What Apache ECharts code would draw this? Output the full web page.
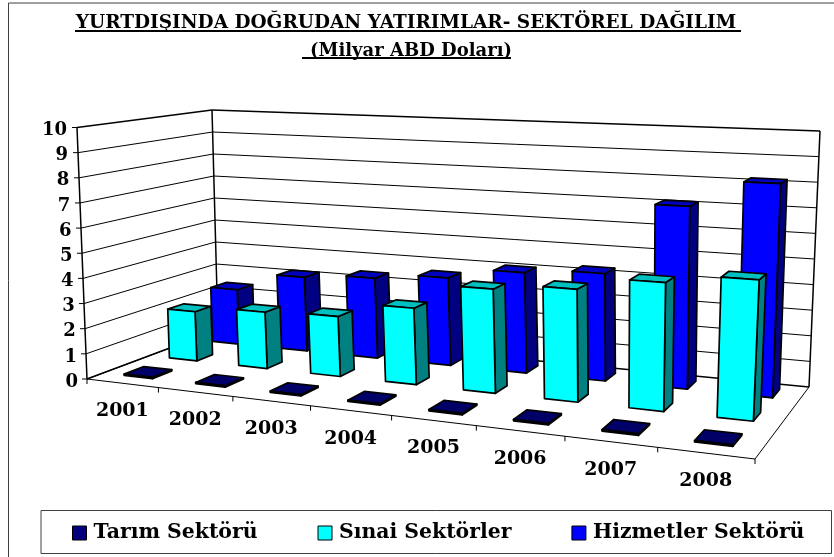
<!DOCTYPE html>
<html><head><meta charset="utf-8">
<style>html,body{margin:0;padding:0;background:#fff}#c{width:834px;height:557px}</style>
<script src="https://cdn.jsdelivr.net/npm/echarts@6/dist/echarts.min.js"></script>
</head><body><div id="c"></div>
<script>
const categories = ['2001','2002','2003','2004','2005','2006','2007','2008'];
const tarim = [0.05,0.05,0.05,0.05,0.05,0.05,0.05,0.05];
const sinai = [2.05,2.3,2.4,3.0,4.0,4.25,4.75,5.1];
const hizmet = [2.37,3.15,3.35,3.6,4.05,4.25,7.1,8.15];
const yTicks = [0,1,2,3,4,5,6,7,8,9,10];
const titleText = 'YURTDIŞINDA DOĞRUDAN YATIRIMLAR- SEKTÖREL DAĞILIM';
const subtitleText = '(Milyar ABD Doları)';
const seriesNames = ['Tarım Sektörü','Sınai Sektörler','Hizmetler Sektörü'];

// perspective box: corners of the floor and the ceiling (front-left, front-right, back-right, back-left)
const floorQ = [[87,379],[755,459],[809,387],[218,330]];
const topQ = [[77,127.5],[771,159],[820,131],[212,110]];
const uWarp = 0.05;
function homog(q){
  const [p0,p1,p2,p3]=q;
  const sx=p0[0]-p1[0]+p2[0]-p3[0], sy=p0[1]-p1[1]+p2[1]-p3[1];
  const dx1=p1[0]-p2[0], dy1=p1[1]-p2[1], dx2=p3[0]-p2[0], dy2=p3[1]-p2[1];
  const den=dx1*dy2-dx2*dy1;
  const g=(sx*dy2-dx2*sy)/den, h=(dx1*sy-sx*dy1)/den;
  const a=p1[0]-p0[0]+g*p1[0], b=p3[0]-p0[0]+h*p3[0], c=p0[0];
  const d=p1[1]-p0[1]+g*p1[1], e=p3[1]-p0[1]+h*p3[1], f=p0[1];
  return (u,v)=>{const w=g*u+h*v+1;return [(a*u+b*v+c)/w,(d*u+e*v+f)/w];};
}
const hF=homog(floorQ), hT=homog(topQ);
function P(u0,v,w){const u=(1+uWarp)*u0/(1+uWarp*u0);const a=hF(u,v),b=hT(u,v);return [a[0]+(b[0]-a[0])*w,a[1]+(b[1]-a[1])*w];}
function norm(params,api,cat,val){
  const cs=params.coordSys, p=api.coord([cat,val]);
  return {u:(p[0]-cs.x)/cs.width, w:(cs.y+cs.height-p[1])/cs.height, cell:api.size([1,0])[0]/cs.width};
}
const lineEl=(a,b,lw,z)=>({type:'line',shape:{x1:a[0],y1:a[1],x2:b[0],y2:b[1]},style:{stroke:'#000',lineWidth:lw,fill:null}});
const polyEl=(pts,fill)=>({type:'polygon',shape:{points:pts},style:{fill:fill,stroke:'#000',lineWidth:1.7,lineJoin:'round'}});

function barSeries(name,vals,v0,v1,front,side,top,bw){
  return {type:'custom',name:name,coordinateSystem:'cartesian2d',clip:false,silent:true,
    itemStyle:{color:front,borderColor:'#000',borderWidth:1.5},
    data:vals.map((x,i)=>[i,x]),encode:{x:0,y:1},
    renderItem(params,api){
      const n=norm(params,api,api.value(0),api.value(1));
      const hw=n.cell*bw/2,u0=n.u-hw,u1=n.u+hw,w=n.w;
      return {type:'group',children:[
        polyEl([P(u1,v0,0),P(u1,v1,0),P(u1,v1,w),P(u1,v0,w)],side),
        polyEl([P(u0,v0,w),P(u1,v0,w),P(u1,v1,w),P(u0,v1,w)],top),
        polyEl([P(u0,v0,0),P(u1,v0,0),P(u1,v0,w),P(u0,v0,w)],front)
      ]};
    }};
}
const wallSeries={type:'custom',name:'walls',coordinateSystem:'cartesian2d',clip:false,silent:true,
  data:yTicks.map(t=>[0,t]),encode:{x:0,y:1},
  renderItem(params,api){
    const w=norm(params,api,0,api.value(1)).w, lw=(api.value(1)===10)?1.5:1, c=[];
    const a=P(0,0,w),b=P(0,1,w),d=P(1,1,w);
    c.push(lineEl([a[0]-5,a[1]],a,1),lineEl(a,b,lw));
    if(api.value(1)===0) c.push(lineEl(b,d,1.5));
    else c.push(lineEl(b,d,lw));
    if(api.value(1)===10){
      c.push(lineEl(P(0,0,0),P(0,0,1),1.5),lineEl(P(0,1,0),P(0,1,1),1.5),lineEl(P(1,1,0),P(1,1,1),1.5));
      c.push(lineEl(P(0,0,0),P(1,0,0),1),lineEl(P(1,0,0),P(1,1,0),1));
      c.push(lineEl(P(0,0,0),P(0,1,0),1.5));
    }
    return {type:'group',children:c};
  }};
const catTickSeries={type:'custom',name:'cats',coordinateSystem:'cartesian2d',clip:false,silent:true,
  data:categories.map((c,i)=>[i,0]),encode:{x:0,y:1},
  renderItem(params,api){
    const i=api.value(0),n=norm(params,api,i,0);
    const a=P(n.u-n.cell/2,0,0),m=P(n.u,0,0),c=[lineEl(a,[a[0],a[1]+5],1)];
    if(i===categories.length-1){const e=P(n.u+n.cell/2,0,0);c.push(lineEl(e,[e[0],e[1]+5],1));}
    c.push({type:'text',x:m[0],y:m[1]+28,style:{text:categories[i],fill:'#000',align:'center',verticalAlign:'middle',
      font:'bold 19px "DejaVu Serif"'}});
    return {type:'group',children:c};
  }};

const rich={};
yTicks.forEach(t=>{rich['t'+t]={padding:[6,t*1.1,0,0],fontSize:18,fontWeight:'bold',fontFamily:'DejaVu Serif',color:'#000'};});

const chart=echarts.init(document.getElementById('c'),null,{renderer:'canvas'});
chart.setOption({
  animation:false,backgroundColor:'#fff',
  title:[
    {text:titleText,left:401,top:9,textAlign:'center',textStyle:{fontFamily:'DejaVu Serif',fontWeight:'bold',fontSize:18.5,color:'#000'}},
    {text:subtitleText,left:406,top:37,textAlign:'center',textStyle:{fontFamily:'DejaVu Serif',fontWeight:'bold',fontSize:18,color:'#000'}}
  ],
  graphic:[
    {type:'rect',shape:{x:8.5,y:3,width:840,height:570},style:{fill:null,stroke:'#404040',lineWidth:1},z:-1},
    {type:'rect',shape:{x:41,y:510.5,width:790.5,height:43},style:{fill:'#fff',stroke:'#404040',lineWidth:1},z:-1},
    {type:'line',shape:{x1:75,y1:31,x2:741,y2:31},style:{stroke:'#000',lineWidth:2}},
    {type:'line',shape:{x1:302,y1:58,x2:511,y2:58},style:{stroke:'#000',lineWidth:2}}
  ],
  legend:{left:41,top:512,data:seriesNames,icon:'rect',itemWidth:14,itemHeight:14,itemGap:60,
    padding:[11,27,10.5,31],
    selectedMode:false,
    textStyle:{fontFamily:'DejaVu Serif',fontWeight:'bold',fontSize:20.4,color:'#000',padding:[9,0,0,2]},
    itemStyle:{borderColor:'#000',borderWidth:1}},
  grid:{left:87,top:127.5,width:668,height:251.5,show:false},
  xAxis:{type:'category',data:categories,axisLine:{show:false},axisTick:{show:false},axisLabel:{show:false},splitLine:{show:false}},
  yAxis:{type:'value',min:0,max:10,interval:1,axisLine:{show:false},axisTick:{show:false},splitLine:{show:false},
    axisLabel:{margin:9,formatter:v=>'{t'+v+'|'+v+'}',rich:rich}},
  series:[wallSeries,
    barSeries(seriesNames[2],hizmet,0.785,0.92,'#0000FF','#000080','#0000BF',0.40),
    barSeries(seriesNames[1],sinai,0.44,0.565,'#00FFFF','#008080','#00BFBF',0.40),
    barSeries(seriesNames[0],tarim,0.11,0.25,'#000080','#000066','#000066',0.40),
    catTickSeries]
});
</script></body></html>
